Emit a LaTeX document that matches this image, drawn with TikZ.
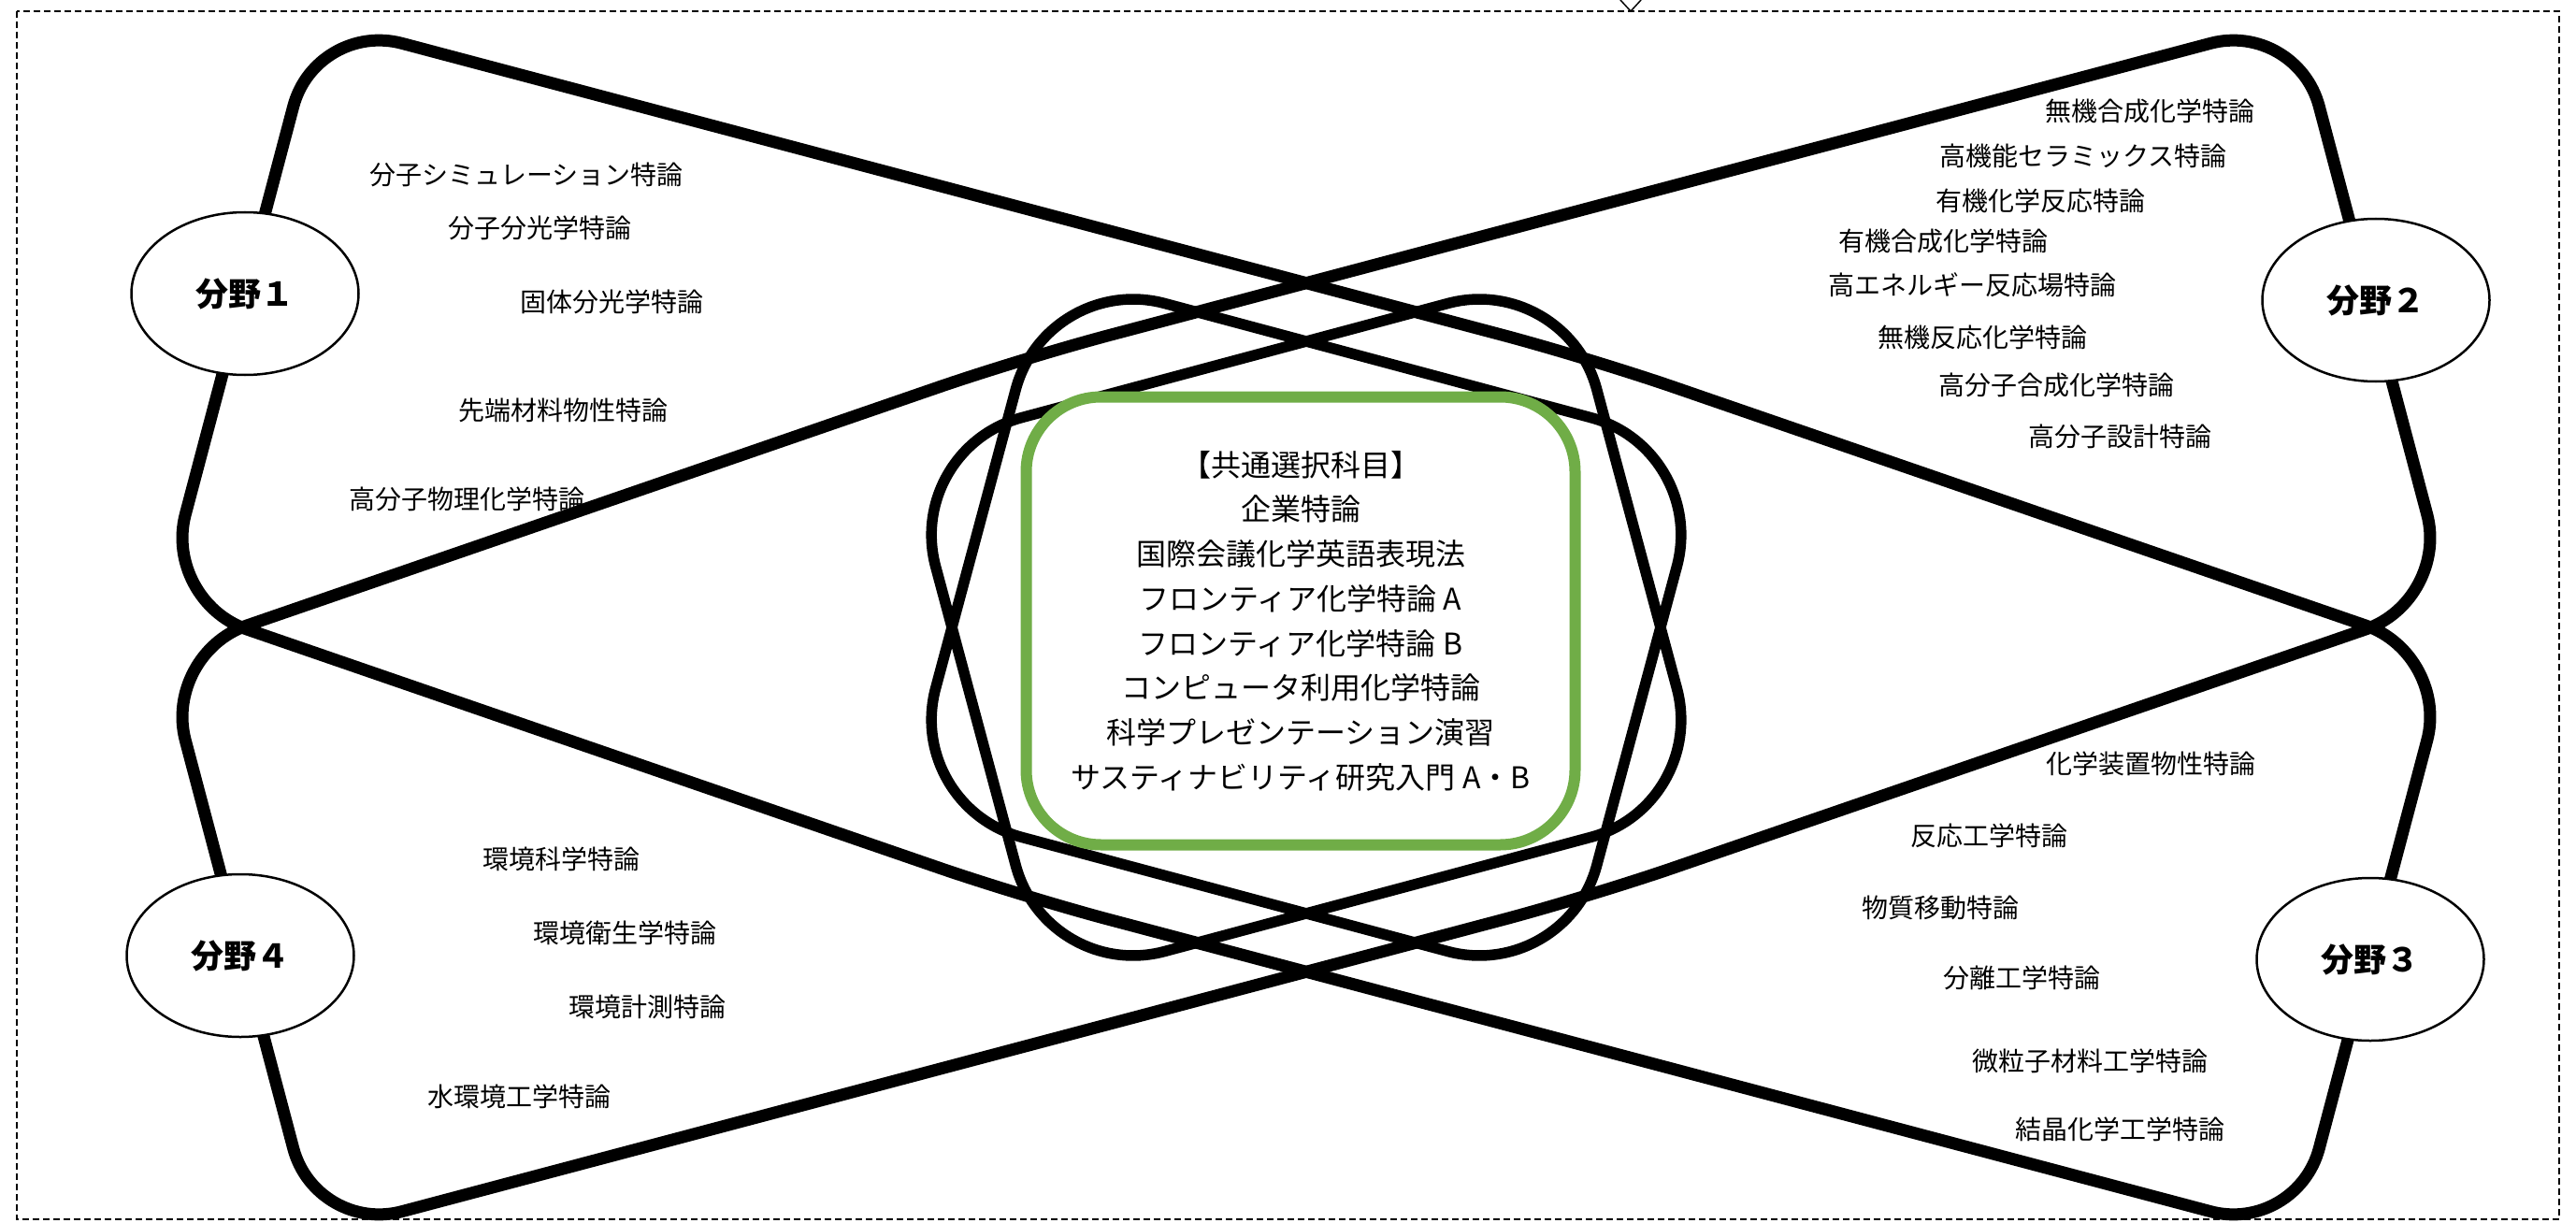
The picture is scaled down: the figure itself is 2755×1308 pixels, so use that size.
\documentclass[tikz,border=0pt]{standalone}
\usepackage{fontspec}
\setmainfont{Noto Sans CJK JP}
\usetikzlibrary{calc,shapes.geometric}
\definecolor{leaf}{RGB}{112,173,71}
\tikzset{
  bow/.style   ={line width=13pt, rounded corners=95pt},
  ring/.style  ={draw, line width=11.5pt, rounded corners=130pt, minimum width=732pt, minimum height=591pt},
  core/.style  ={draw=leaf, fill=white, line width=12pt, rounded corners=80pt, minimum width=587pt, minimum height=479pt},
  field/.style ={draw, ellipse, fill=white, line width=2.5pt, minimum width=243pt, minimum height=174pt, font=\fontsize{35}{40}\selectfont\bfseries},
  subj/.style  ={inner sep=0pt, font=\fontsize{28}{32}\selectfont},
  frame/.style ={line width=1.5pt, dash pattern=on 7pt off 4pt}
}

\begin{document}
\begin{tikzpicture}[x=1pt,y=-1pt]
\useasboundingbox (0,0) rectangle (2755,1308);
\draw[frame] (18,12) rectangle (2737,1304);
% arrow tip on the frame
\coordinate (tip) at (1744,12);
\draw[line width=1.5pt] (tip) ++(-11,-12) -- (tip) -- ++(11,-12);

% corners and bends of the two bow ties
\coordinate (tl) at (338,22);    \coordinate (tr) at (2456,22);
\coordinate (bl) at (338,1320);  \coordinate (br) at (2456,1320);
\coordinate (lu) at (174,642);   \coordinate (ru) at (2620,642);
\coordinate (ld) at (174,700);   \coordinate (rd) at (2620,700);
\coordinate (k1) at (1700,383);  \coordinate (k2) at (1094,959);
\coordinate (k3) at (1094,383);  \coordinate (k4) at (1700,959);
\draw[bow] ($(tl)!.5!(lu)$) -- (lu) -- (k2) -- (br) -- (rd) -- (k1) -- (tl) -- cycle;
\draw[bow] ($(bl)!.5!(ld)$) -- (ld) -- (k3) -- (tr) -- (ru) -- (k4) -- (bl) -- cycle;

% rings round the core
\node[ring, rotate=15]  (ringa) at (1397,671) {};
\node[ring, rotate=-15] (ringb) at (1397,671) {};

\node[core] (core) at (1391,664) {};
\node[align=center, font=\fontsize{32}{47.7}\selectfont] (common) at (core.center)
  {【共通選択科目】\\企業特論\\国際会議化学英語表現法\\フロンティア化学特論 A\\フロンティア化学特論 B\\コンピュータ利用化学特論\\科学プレゼンテーション演習\\サスティナビリティ研究入門 A・B};

% fields
\node[field] (f1) at (262,314)   {分野１};
\node[field] (f2) at (2541,321)  {分野２};
\node[field] (f3) at (2535,1026) {分野３};
\node[field] (f4) at (257,1022)  {分野４};

% field 1
\node[subj] (a1) at (563,187) {分子シミュレーション特論};
\node[subj] (a2) at (577,244) {分子分光学特論};
\node[subj] (a3) at (654,323) {固体分光学特論};
\node[subj] (a4) at (602,439) {先端材料物性特論};
\node[subj] (a5) at (499,534) {高分子物理化学特論};
% field 2
\node[subj] (b1) at (2299,119) {無機合成化学特論};
\node[subj] (b2) at (2228,167) {高機能セラミックス特論};
\node[subj] (b3) at (2182,215) {有機化学反応特論};
\node[subj] (b4) at (2078,258) {有機合成化学特論};
\node[subj] (b5) at (2109,305) {高エネルギー反応場特論};
\node[subj] (b6) at (2120,361) {無機反応化学特論};
\node[subj] (b7) at (2199,412) {高分子合成化学特論};
\node[subj] (b8) at (2267,467) {高分子設計特論};
% field 3
\node[subj] (c1) at (2300,817)  {化学装置物性特論};
\node[subj] (c2) at (2127,894)  {反応工学特論};
\node[subj] (c3) at (2075,971)  {物質移動特論};
\node[subj] (c4) at (2162,1046) {分離工学特論};
\node[subj] (c5) at (2235,1135) {微粒子材料工学特論};
\node[subj] (c6) at (2267,1208) {結晶化学工学特論};
% field 4
\node[subj] (d1) at (600,919)  {環境科学特論};
\node[subj] (d2) at (668,998)  {環境衛生学特論};
\node[subj] (d3) at (692,1077) {環境計測特論};
\node[subj] (d4) at (555,1173) {水環境工学特論};
\end{tikzpicture}
\end{document}
